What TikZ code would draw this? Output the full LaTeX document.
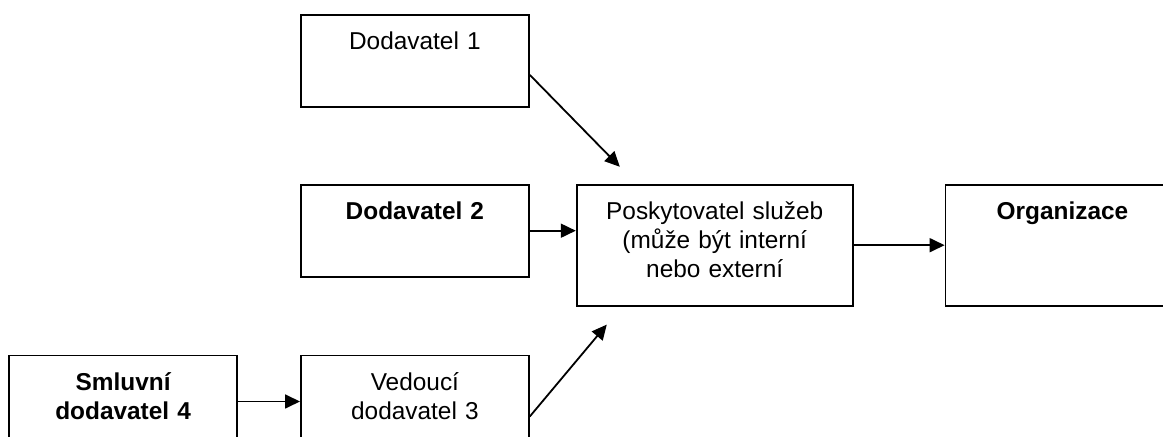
\documentclass[tikz,border=0pt]{standalone}
\usepackage{fontspec}
\setmainfont{Liberation Sans}
\usetikzlibrary{arrows.meta,positioning}

\begin{document}
\begin{tikzpicture}[>={Triangle[length=7.5pt,width=7pt]}, line width=0.9pt,
		every node/.style={font=\fontsize{12.2pt}{14.5pt}\selectfont},
		box/.style={draw, rectangle, inner sep=0pt, align=center, text height=17.5pt},
		narrow/.style={box, text width=114pt, text depth=28.5pt},
		wide/.style={box, text width=138pt, text depth=43pt}]
	\clip (0,0) rectangle (581.5pt,-218.5pt);
	\node[narrow, anchor=north west] (sup1) at (150pt,-7pt) {Dodavatel 1};
	\node[narrow] (sup2) [below=38pt of sup1] {\bfseries Dodavatel 2};
	\node[narrow] (lead3) [below=38.5pt of sup2] {Vedoucí\\dodavatel 3};
	\node[narrow] (contract4) [left=31pt of lead3.north west, anchor=north east] {\bfseries Smluvní\\\bfseries dodavatel 4};
	\node[wide] (provider) [right=23pt of sup2.north east, anchor=north west] {Poskytovatel služeb\\(může být interní\\nebo externí};
	\node[wide, text width=117pt] (org) [right=45.5pt of provider] {\bfseries Organizace};
	\coordinate (in1) at ([xshift=22pt,yshift=8.5pt]provider.north west);
	\coordinate (in3) at ([xshift=15.5pt,yshift=-9pt]provider.south west);
	\draw[->] ([yshift=-7pt]sup1.east) -- (in1);
	\draw[->] (sup2.east) -- (sup2.east -| provider.west);
	\draw[->] ([yshift=-7.5pt]lead3.east) -- (in3);
	\draw[->] (contract4.east) -- (contract4.east -| lead3.west);
	\draw[->] (provider) -- (org);
\end{tikzpicture}
\end{document}
